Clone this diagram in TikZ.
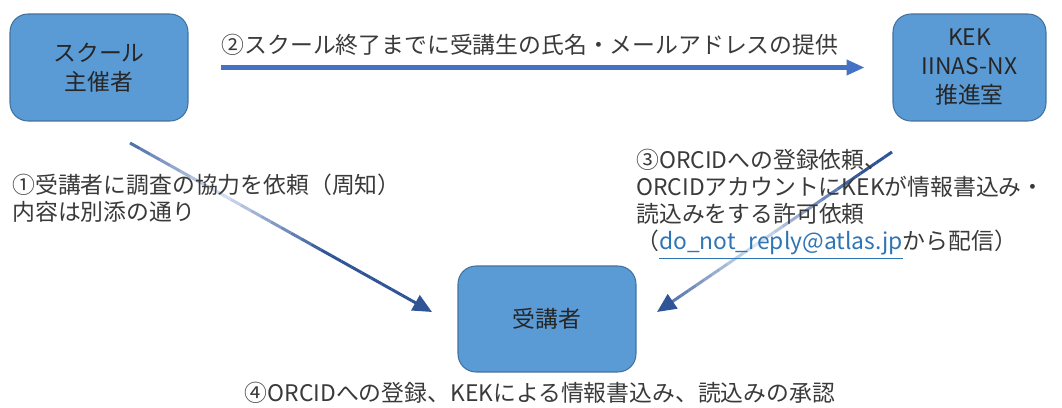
\documentclass[tikz,border=0pt]{standalone}
\usepackage{fontspec}
\setmainfont{Noto Sans CJK JP}
\usetikzlibrary{arrows.meta,calc}
\definecolor{boxfill}{HTML}{5B9BD5}
\definecolor{boxline}{HTML}{41719C}
\definecolor{arrowblue}{HTML}{4472C4}
\definecolor{arrowdark}{HTML}{2F5597}
\definecolor{arrowlight}{HTML}{DAE3F3}
\definecolor{linkblue}{HTML}{2E75B6}
\definecolor{textgray}{HTML}{3A3A3A}
\begin{document}
\begin{tikzpicture}[x=0.02cm,y=-0.02cm,
  actor/.style={draw=boxline,line width=0.6pt,fill=boxfill,rounded corners=0.36cm,
    minimum height=2.14cm,align=center,text=black!85,inner sep=0pt,
    font=\fontsize{13}{16.5}\selectfont},
  note/.style={text=textgray,inner sep=0pt,font=\fontsize{13}{15.5}\selectfont},
  fade/.style={line width=1.7pt}]
\useasboundingbox (0,0) rectangle (1062,408);
% the three parties
\node[actor,minimum width=3.56cm] (school) at (99,67.5) {スクール\\主催者};
\node[actor,minimum width=3.06cm] (kek) at (969.5,67.5) {KEK\\IINAS-NX\\推進室};
\node[actor,minimum width=3.56cm,minimum height=2.12cm] (student) at (547,319) {受講者};
% step 2
\draw[arrowblue,line width=2.3pt,-{Triangle[length=0.36cm,width=0.3cm]},
  shorten <=0.64cm,shorten >=0.56cm] (school.east) -- (kek.west);
\node[note] (step2) at (530,45) {②スクール終了までに受講生の氏名・メールアドレスの提供};
% step 1
\coordinate (l0) at (130,143);
\coordinate (l1) at (432,312);
\foreach \i in {1,...,28}{
  \pgfmathtruncatemacro\p{100*min(1,abs((\i-0.5)/30-0.3)/0.35)}
  \draw[fade,draw=arrowdark!\p!arrowlight] ($(l0)!{(\i-1)/30}!(l1)$) -- ($(l0)!{\i/30}!(l1)$);
}
\draw[fade,arrowdark,-{Triangle[length=0.38cm,width=0.34cm]}] ($(l0)!{28/30}!(l1)$) -- (l1);
\node[note,anchor=west,align=left] (step1) at (12,198.5)
  {①受講者に調査の協力を依頼（周知）\\内容は別添の通り};
% step 3
\coordinate (r0) at (892,152);
\coordinate (r1) at (657,312);
\foreach \i in {1,...,28}{
  \pgfmathtruncatemacro\p{100*min(1,abs((\i-0.5)/30-0.58)/0.45)}
  \draw[fade,draw=arrowdark!\p!arrowlight] ($(r0)!{(\i-1)/30}!(r1)$) -- ($(r0)!{\i/30}!(r1)$);
}
\draw[fade,arrowdark,-{Triangle[length=0.38cm,width=0.34cm]}] ($(r0)!{28/30}!(r1)$) -- (r1);
\node[note,anchor=west,align=left] (step3) at (636,204)
  {③ORCIDへの登録依頼、\\ORCIDアカウントにKEKが情報書込み・\\読込みをする許可依頼\\
   （\textcolor{linkblue}{\underline{do\_not\_reply@atlas.jp}}から配信）};
% step 4
\node[note] (step4) at (540,393) {④ORCIDへの登録、KEKによる情報書込み、読込みの承認};
\end{tikzpicture}
\end{document}
